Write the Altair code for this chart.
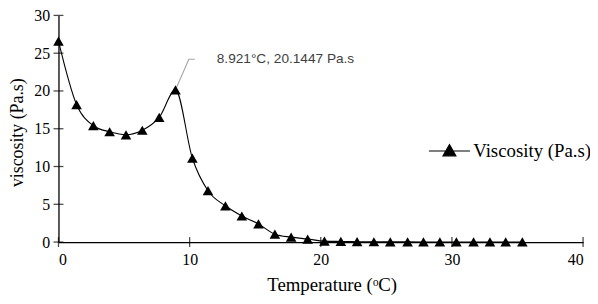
import altair as alt
import pandas as pd

temperature = [0, 1.38, 2.66, 3.9, 5.15, 6.39, 7.68, 8.921, 10.21, 11.4, 12.73, 13.98,
               15.25, 16.5, 17.74, 19.0, 20.28, 21.53, 22.77, 24.05, 25.3, 26.62, 27.83,
               29.08, 30.34, 31.65, 32.9, 34.1, 35.37]
viscosity = [26.6, 18.2, 15.4, 14.6, 14.2, 14.8, 16.5, 20.1447, 11.1, 6.8, 4.8, 3.45,
             2.4, 1.05, 0.65, 0.4, 0.12, 0.08, 0.05, 0.04, 0.03, 0.03, 0.02,
             0.02, 0.02, 0.02, 0.02, 0.02, 0.02]
series_name = "Viscosity (Pa.s)"
x_ticks = [0, 10, 20, 30, 40]
y_ticks = [0, 5, 10, 15, 20, 25, 30]
annot_label = "8.921\u00b0C, 20.1447 Pa.s"
leader_x = [8.921, 9.94, 10.4]
leader_y = [20.1447, 24.2, 24.2]
annot_x = [12.07]
annot_y = [24.2]

df = pd.DataFrame({"T": temperature, "V": viscosity, "s": series_name})
xt = pd.DataFrame({"T": x_ticks, "V": [0] * len(x_ticks)})
yt = pd.DataFrame({"V": y_ticks, "T": [0] * len(y_ticks)})
lead = pd.DataFrame({"T": leader_x, "V": leader_y, "o": [0, 1, 2]})
ann = pd.DataFrame({"T": annot_x, "V": annot_y, "t": [annot_label]})

xscale = alt.Scale(domain=[0, 40], nice=False, zero=False)
yscale = alt.Scale(domain=[0, 30], nice=False)

serif = "Liberation Serif"

common_axis = dict(grid=False, ticks=False, domainColor="black", domainWidth=1.3,
                   labelFont=serif, labelFontSize=16, labelColor="black",
                   labelOverlap=False, titleFont=serif, titleFontWeight="normal",
                   titleColor="black")

x_axis = alt.Axis(values=x_ticks, title="Temperature (\u1d52C)", labelPadding=10,
                  titleFontSize=19, titleX=276, titleY=49, titleBaseline="alphabetic",
                  **common_axis)
y_axis = alt.Axis(values=y_ticks, title="viscosity (Pa.s)", labelPadding=9,
                  titleFontSize=18, titleX=-36, titleY=118, titleAngle=-90,
                  titleBaseline="alphabetic", **common_axis)

x_enc = alt.X("T:Q", scale=xscale, axis=x_axis)
y_enc = alt.Y("V:Q", scale=yscale, axis=y_axis)

legend = alt.Legend(
    title=None, orient="none", legendX=376, legendY=118,
    symbolType="M-1.15,0H1.15M0,-0.36L0.36,0.27L-0.36,0.27Z",
    symbolSize=1300, symbolStrokeWidth=1.2, symbolFillColor="black",
    symbolStrokeColor="black", labelFont=serif, labelFontSize=19,
    labelColor="black", labelOffset=5)

line = alt.Chart(df).mark_line(interpolate="monotone", strokeWidth=1.1).encode(
    x=x_enc, y=y_enc,
    color=alt.Color("s:N", scale=alt.Scale(range=["black"]), legend=legend))

points = alt.Chart(df).mark_point(shape="triangle-up", filled=True, size=115,
                                  color="black", opacity=1).encode(x=x_enc, y=y_enc)

ytick_marks = alt.Chart(yt).mark_tick(orient="horizontal", size=10, thickness=1.3,
                                      color="black").encode(x=x_enc, y=y_enc)
xtick_marks = alt.Chart(xt).mark_tick(orient="vertical", size=10, thickness=1.3,
                                      color="black").encode(x=x_enc, y=y_enc)

leader = alt.Chart(lead).mark_line(color="#a6a6a6", strokeWidth=1.2).encode(
    x=x_enc, y=y_enc, order="o:Q")

text = alt.Chart(ann).mark_text(align="left", baseline="middle", font="Liberation Sans",
                                fontSize=13.8, color="#404040").encode(
    x=x_enc, y=y_enc, text="t:N")

chart = alt.layer(line, leader, points, ytick_marks, xtick_marks, text).properties(
    width=530, height=229, background="white",
    autosize=alt.AutoSizeParams(type="none"),
    padding={"left": 51, "top": 6, "right": 7, "bottom": 53},
).configure(
    style={"guide-label": {"font": serif, "fontSize": 16}}
).configure_view(strokeWidth=0).configure_axis(
    labelFont=serif, labelFontSize=16, titleFont=serif
)

chart.save("out.html", embed_options={"renderer": "svg", "actions": False})
